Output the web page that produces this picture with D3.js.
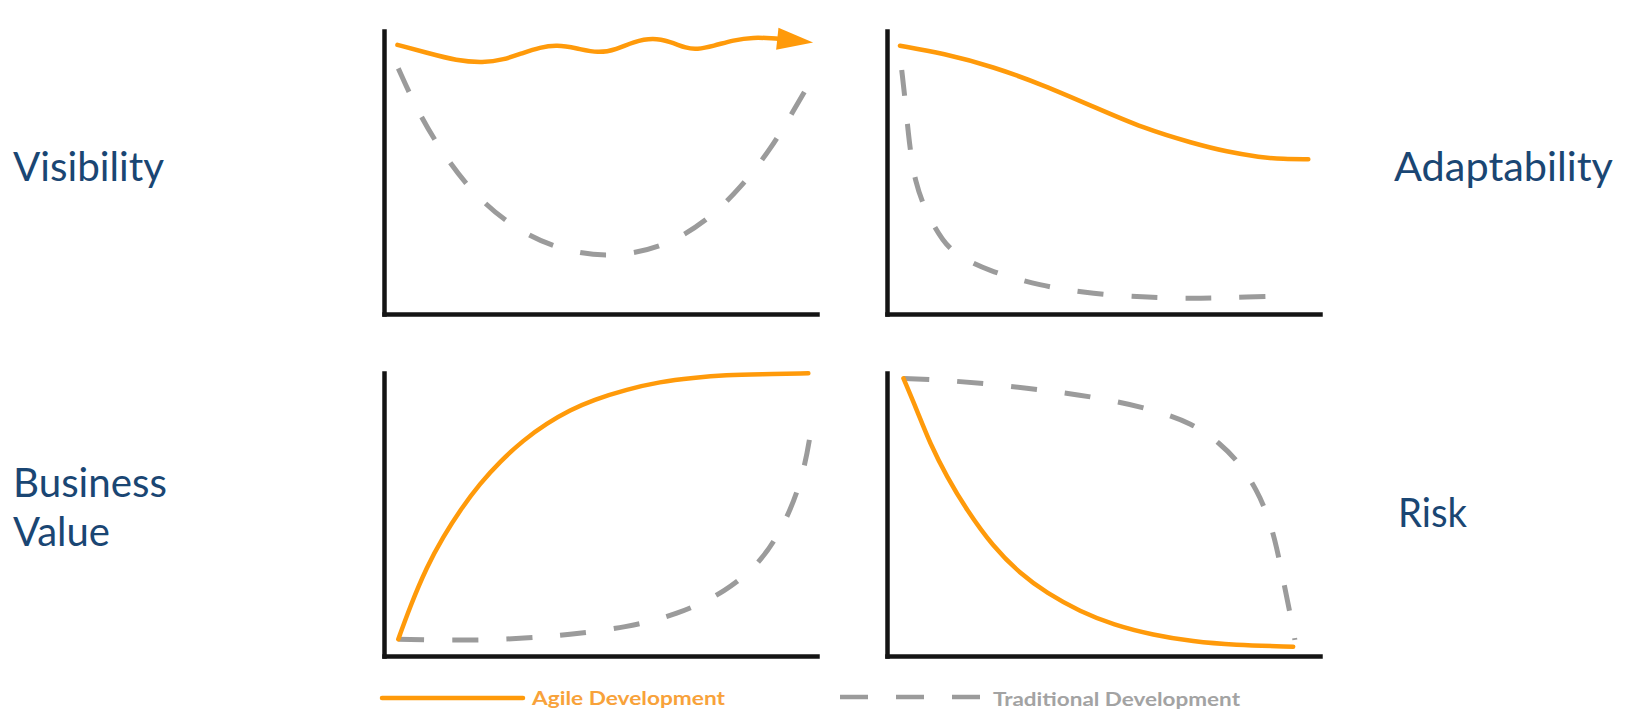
<!DOCTYPE html>
<html><head><meta charset="utf-8">
<script src="https://cdn.jsdelivr.net/npm/d3@7"></script>
<style>html,body{margin:0;padding:0;background:#fff;overflow:hidden} svg{display:block}</style>
</head><body>
<svg id="chart" width="1625" height="712"></svg>
<script>
// ---- data (x: 0..100 time, y: 0..100 level) ----
const visibilityAgile = [[3.1,95.1],[9.9,92.3],[16.8,89.5],[22.9,88.8],[27.6,89.8],[32.2,92.3],[36.0,94.2],[39.9,95.1],[44.5,93.9],[49.5,92.1],[53.7,93.5],[57.6,96.2],[62.2,97.6],[66.1,96.2],[69.9,93.9],[72.2,93.5],[76.1,94.7],[80.7,96.8],[85.3,97.8],[89.9,97.4],[99.1,95.9]];
const visibilityTraditional = [[3.3,86.8],[7.6,72.1],[13.3,57.3],[19.9,43.8],[28.3,32.0],[39.1,23.2],[51.4,19.7],[64.1,23.2],[74.5,32.6],[82.6,45.0],[89.5,58.6],[94.9,72.7],[97.6,79.8]];
const adaptabilityAgile = [[3.0,94.8],[13.0,92.1],[24.5,87.4],[36.1,80.9],[47.6,73.3],[59.2,65.6],[70.7,60.3],[78.5,57.3],[86.1,55.4],[91.5,54.7],[97.3,54.7]];
const adaptabilityTraditional = [[3.4,86.2],[4.2,75.6],[4.9,63.9],[5.7,54.4],[6.5,47.3],[8.4,37.9],[13.0,25.0],[16.9,20.2],[23.0,15.5],[35.3,9.9],[47.6,7.1],[60.7,5.8],[70.7,5.5],[78.4,5.8],[92.3,6.4]];
const valueAgile = [[3.3,5.9],[6.0,17.4],[9.9,31.6],[13.7,42.2],[17.6,51.6],[22.2,61.0],[26.8,68.7],[32.2,76.3],[37.6,82.2],[43.0,86.9],[48.3,90.5],[56.1,94.2],[63.7,96.9],[71.4,98.3],[79.1,99.3],[86.8,99.6],[98.0,99.9]];
const valueTraditional = [[3.3,5.9],[19.9,5.4],[33.0,6.3],[42.2,7.4],[56.1,10.1],[67.6,14.5],[79.1,22.7],[87.6,33.9],[93.0,48.1],[96.8,63.4],[98.8,81.0],[99.0,85.5]];
const riskAgile = [[3.8,98.1],[6.9,86.9],[9.9,75.2],[13.8,63.4],[18.4,51.6],[24.5,38.6],[30.7,29.2],[36.9,22.2],[44.6,15.7],[52.3,11.0],[61.5,7.4],[70.7,5.1],[80.0,3.9],[93.8,3.3]];
const riskTraditional = [[3.8,98.1],[13.0,97.5],[24.5,96.0],[36.1,94.0],[47.6,91.6],[60.7,87.5],[70.7,82.2],[76.9,75.2],[81.5,68.1],[85.4,58.7],[88.1,49.2],[90.0,38.6],[91.5,26.9],[93.1,15.1],[94.2,5.7]];
const panelTitles = [["Visibility"],["Adaptability"],["Business","Value"],["Risk"]];
const legendLabels = ["Agile Development","Traditional Development"];

// ---- layout / style ----
const AGILE="#ff9a0a", TRAD="#9b9b9b", AXIS="#141414", LABEL="#1a4673";
const PW=433, PH=283;
const panelPos=[{x0:384,y0:314},{x0:887,y0:314},{x0:384,y0:656},{x0:887,y0:656}];
const series=[[visibilityAgile,visibilityTraditional],[adaptabilityAgile,adaptabilityTraditional],[valueAgile,valueTraditional],[riskAgile,riskTraditional]];
const titlePos=[{x:13,y:181,w:[151]},{x:1394,y:181,w:[219]},{x:13,y:497,w:[154,97]},{x:1398,y:527,w:[69]}];

const svg=d3.select("#chart");

series.forEach((s,i)=>{
  const p=panelPos[i];
  const x=d3.scaleLinear().domain([0,100]).range([p.x0,p.x0+PW]);
  const y=d3.scaleLinear().domain([0,100]).range([p.y0,p.y0-PH]);
  const line=d3.line().x(d=>x(d[0])).y(d=>y(d[1])).curve(d3.curveBasis);

  // traditional (dashed)
  svg.append("path").attr("d",line(s[1])).attr("fill","none")
    .attr("stroke",TRAD).attr("stroke-width",5).attr("stroke-dasharray","26,28");
  // agile (solid)
  let agile=s[0];
  if(i===0){
    const a=agile[agile.length-2], b=agile[agile.length-1];
    const tx=x(b[0]), ty=y(b[1]);
    const dx=tx-x(a[0]), dy=ty-y(a[1]); const L=Math.hypot(dx,dy);
    const ux=dx/L, uy=dy/L, len=36, hw=11;
    const bx=tx-ux*len, by=ty-uy*len;
    svg.append("path").attr("d",line(agile.slice(0,-1).concat([[x.invert(bx+ux*4),y.invert(by+uy*4)]])))
      .attr("fill","none").attr("stroke",AGILE).attr("stroke-width",4.5).attr("stroke-linecap","round");
    svg.append("path").attr("fill",AGILE)
      .attr("d",`M${tx},${ty}L${bx-uy*hw},${by+ux*hw}L${bx+uy*hw},${by-ux*hw}Z`);
  } else {
    svg.append("path").attr("d",line(agile)).attr("fill","none")
      .attr("stroke",AGILE).attr("stroke-width",4.5).attr("stroke-linecap","round");
  }

  const gx=svg.append("g").attr("transform",`translate(0,${p.y0})`)
    .call(d3.axisBottom(x).tickValues([]).tickSizeOuter(0));
  const gy=svg.append("g").attr("transform",`translate(${p.x0},0)`)
    .call(d3.axisLeft(y).tickValues([]).tickSizeOuter(0));
  [gx,gy].forEach(g=>g.select(".domain").attr("stroke",AXIS).attr("stroke-width",4.5).attr("stroke-linecap","square"));

  const t=titlePos[i];
  panelTitles[i].forEach((txt,k)=>{
    svg.append("text").attr("x",t.x).attr("y",t.y+k*49)
      .attr("font-family","Lato, 'Open Sans', sans-serif").attr("font-size",40)
      .attr("fill",LABEL).attr("textLength",t.w[k]).attr("lengthAdjust","spacingAndGlyphs")
      .text(txt);
  });
});

// legend
svg.append("line").attr("x1",382).attr("x2",523).attr("y1",698).attr("y2",698)
  .attr("stroke",AGILE).attr("stroke-width",4.5).attr("stroke-linecap","round");
svg.append("text").attr("x",532).attr("y",705).text(legendLabels[0])
  .attr("font-family","Lato, sans-serif").attr("font-weight",700).attr("font-size",18)
  .attr("fill","#f8a23a").attr("textLength",193).attr("lengthAdjust","spacingAndGlyphs");
svg.append("line").attr("x1",840).attr("x2",980).attr("y1",697).attr("y2",697)
  .attr("stroke",TRAD).attr("stroke-width",4.5).attr("stroke-dasharray","28,28");
svg.append("text").attr("x",993).attr("y",706).text(legendLabels[1])
  .attr("font-family","Lato, sans-serif").attr("font-weight",700).attr("font-size",19)
  .attr("fill","#a3a3a3").attr("textLength",247).attr("lengthAdjust","spacingAndGlyphs");
</script>
</body></html>
